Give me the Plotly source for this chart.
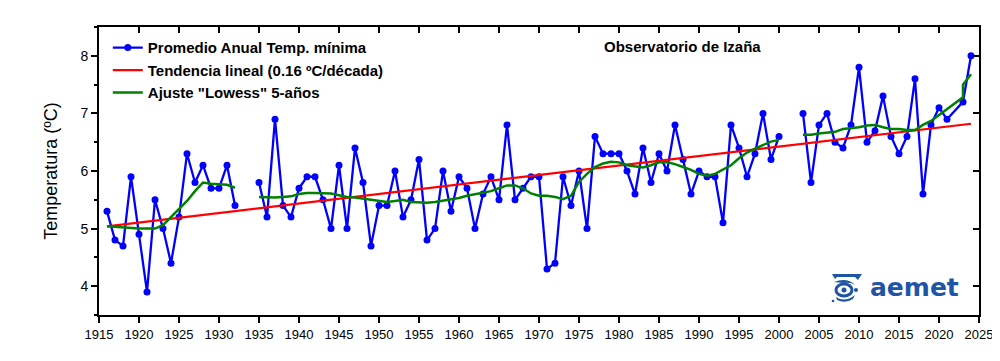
import base64
import plotly.graph_objects as go

# ---------------- data ----------------
years = [1916, 1917, 1918, 1919, 1920, 1921, 1922, 1923, 1924, 1925,
         1926, 1927, 1928, 1929, 1930, 1931, 1932, 1933, 1934, 1935,
         1936, 1937, 1938, 1939, 1940, 1941, 1942, 1943, 1944, 1945,
         1946, 1947, 1948, 1949, 1950, 1951, 1952, 1953, 1954, 1955,
         1956, 1957, 1958, 1959, 1960, 1961, 1962, 1963, 1964, 1965,
         1966, 1967, 1968, 1969, 1970, 1971, 1972, 1973, 1974, 1975,
         1976, 1977, 1978, 1979, 1980, 1981, 1982, 1983, 1984, 1985,
         1986, 1987, 1988, 1989, 1990, 1991, 1992, 1993, 1994, 1995,
         1996, 1997, 1998, 1999, 2000, 2001, 2002, 2003, 2004, 2005,
         2006, 2007, 2008, 2009, 2010, 2011, 2012, 2013, 2014, 2015,
         2016, 2017, 2018, 2019, 2020, 2021, 2023, 2024]
tmin = [5.3, 4.8, 4.7, 5.9, 4.9, 3.9, 5.5, 5.0, 4.4, 5.2,
        6.3, 5.8, 6.1, 5.7, 5.7, 6.1, 5.4, None, None, 5.8,
        5.2, 6.9, 5.4, 5.2, 5.7, 5.9, 5.9, 5.5, 5.0, 6.1,
        5.0, 6.4, 5.8, 4.7, 5.4, 5.4, 6.0, 5.2, 5.5, 6.2,
        4.8, 5.0, 6.0, 5.3, 5.9, 5.7, 5.0, 5.6, 5.9, 5.5,
        6.8, 5.5, 5.7, 5.9, 5.9, 4.3, 4.4, 5.9, 5.4, 6.0,
        5.0, 6.6, 6.3, 6.3, 6.3, 6.0, 5.6, 6.4, 5.8, 6.3,
        6.0, 6.8, 6.2, 5.6, 6.0, 5.9, 5.9, 5.1, 6.8, 6.4,
        5.9, 6.3, 7.0, 6.2, 6.6, None, None, 7.0, 5.8, 6.8,
        7.0, 6.5, 6.4, 6.8, 7.8, 6.5, 6.7, 7.3, 6.6, 6.3,
        6.6, 7.6, 5.6, 6.8, 7.1, 6.9, 7.2, 8.0]

trend_years = [1916, 2024]
trend_values = [5.04, 6.82]

lowess_years = [1916, 1917, 1918, 1919, 1920, 1921, 1922, 1923, 1924, 1925,
                1926, 1927, 1928, 1929, 1930, 1931, 1932, 1933,
                1935, 1936, 1937, 1938, 1939, 1940, 1941, 1942, 1943, 1944,
                1945, 1946, 1947, 1948, 1949, 1950, 1951, 1952, 1953, 1954,
                1955, 1956, 1957, 1958, 1959, 1960, 1961, 1962, 1963, 1964,
                1965, 1966, 1967, 1968, 1969, 1970, 1971, 1972, 1973, 1974,
                1975, 1976, 1977, 1978, 1979, 1980, 1981, 1982, 1983, 1984,
                1985, 1986, 1987, 1988, 1989, 1990, 1991, 1992, 1993, 1994,
                1995, 1996, 1997, 1998, 1999, 2000, 2001,
                2003, 2004, 2005, 2006, 2007, 2008, 2009, 2010, 2011, 2012,
                2013, 2014, 2015, 2016, 2017, 2018, 2019, 2020, 2021, 2022,
                2023, 2023, 2024]
lowess_values = [5.04, 5.03, 5.02, 5.0, 5.0, 5.0, 5.0, 5.06, 5.2, 5.35,
                 5.48, 5.65, 5.8, 5.78, 5.77, 5.76, 5.71, None,
                 5.55, 5.54, 5.54, 5.55, 5.56, 5.6, 5.62, 5.62, 5.62, 5.61,
                 5.58, 5.55, 5.54, 5.52, 5.51, 5.48, 5.46, 5.48, 5.5, 5.46,
                 5.45, 5.45, 5.46, 5.48, 5.5, 5.53, 5.57, 5.6, 5.62, 5.65,
                 5.7, 5.75, 5.75, 5.7, 5.61, 5.57, 5.57, 5.55, 5.51, 5.57,
                 5.81, 5.95, 6.07, 6.13, 6.16, 6.15, 6.1, 6.08, 6.06, 6.1,
                 6.15, 6.15, 6.12, 6.07, 6.02, 5.95, 5.92, 5.95, 6.02, 6.1,
                 6.22, 6.32, 6.39, 6.45, 6.51, 6.54, None,
                 6.63, 6.63, 6.65, 6.67, 6.68, 6.73, 6.74, 6.76, 6.79, 6.8,
                 6.76, 6.73, 6.73, 6.71, 6.71, 6.8, 6.87, 6.97, 7.07, 7.18,
                 7.28, 7.5, 7.68]

x_ticks = list(range(1915, 2030, 5))
y_ticks = [4, 5, 6, 7, 8]

legend_names = ["Promedio Anual Temp. mínima",
                "Tendencia lineal (0.16 ºC/década)",
                "Ajuste \"Lowess\" 5-años"]

# ---------------- figure ----------------
fig = go.Figure()
fig.add_trace(go.Scatter(x=years, y=tmin, mode="lines+markers",
                         name=legend_names[0],
                         line=dict(color="#0000FF", width=2.3),
                         marker=dict(color="#0000FF", size=7)))
fig.add_trace(go.Scatter(x=trend_years, y=trend_values, mode="lines",
                         name=legend_names[1],
                         line=dict(color="#FF0000", width=2.2)))
fig.add_trace(go.Scatter(x=lowess_years, y=lowess_values, mode="lines",
                         name=legend_names[2],
                         line=dict(color="#008000", width=2.5)))

axis_font = dict(family="Liberation Sans, Arial, sans-serif", color="black")

fig.update_layout(
    width=984, height=345,
    margin=dict(l=91, r=13, t=19, b=38, autoexpand=False),
    paper_bgcolor="white", plot_bgcolor="white",
    font=axis_font,
    showlegend=True,
    legend=dict(x=0.01, y=0.985, xanchor="left", yanchor="top",
                bgcolor="rgba(0,0,0,0)", borderwidth=0,
                tracegroupgap=0,
                font=dict(family="Liberation Sans, Arial, sans-serif",
                          size=15, color="black", weight="bold")),
    xaxis=dict(range=[1915, 2025], tickmode="array", tickvals=x_ticks,
               ticks="outside", ticklen=6, tickwidth=2, tickcolor="black",
               showline=True, linecolor="black", linewidth=2, mirror=True,
               showgrid=False, zeroline=False, ticklabeloverflow="allow",
               tickfont=dict(size=13, color="black")),
    yaxis=dict(range=[3.5, 8.5], tickmode="array", tickvals=y_ticks,
               ticks="outside", ticklen=6, tickwidth=2, tickcolor="black",
               minor=dict(dtick=0.5, ticks="outside", ticklen=3,
                          tickwidth=2, tickcolor="black"),
               showline=True, linecolor="black", linewidth=2, mirror=True,
               showgrid=False, zeroline=False,
               tickfont=dict(size=14, color="black"),
               title=dict(text="Temperatura (ºC)", standoff=18,
                          font=dict(size=18, color="black"))),
    xaxis2=dict(range=[1915, 2025], overlaying="x", side="top",
                tickmode="array", tickvals=x_ticks, ticks="inside",
                ticklen=6, tickwidth=2, tickcolor="black",
                showticklabels=False, showgrid=False, zeroline=False,
                showline=False),
    yaxis2=dict(range=[3.5, 8.5], overlaying="y", side="right",
                tickmode="array", tickvals=y_ticks, ticks="inside",
                ticklen=6, tickwidth=2, tickcolor="black",
                showticklabels=False, showgrid=False, zeroline=False,
                showline=False),
)

# invisible trace to activate the mirrored tick axes
fig.add_trace(go.Scatter(x=[1915], y=[3.5], xaxis="x2", yaxis="y2",
                         mode="markers", marker=dict(opacity=0),
                         showlegend=False, hoverinfo="skip"))

fig.add_annotation(text="<b>Observatorio de Izaña</b>", xref="paper",
                   yref="paper", x=(682 - 99) / 880, y=(315 - 46) / 288,
                   xanchor="center", yanchor="middle", showarrow=False,
                   font=dict(family="Liberation Sans, Arial, sans-serif",
                             size=15, color="black"))

# AEMET logo (text + simple emblem)
fig.add_annotation(text="<b>aemet</b>", xref="paper", yref="paper",
                   x=(914 - 99) / 880, y=(315 - 287) / 288,
                   xanchor="center", yanchor="middle", showarrow=False,
                   font=dict(family="DejaVu Sans, sans-serif", size=25,
                             color="#1f55a5"))

svg = ('<svg xmlns="http://www.w3.org/2000/svg" width="32" height="30" viewBox="0 0 32 30">'
       '<path d="M1 1 L31 1 L27 7 L24 4 L6 4 L4 6 Z" fill="#1f55a5"/>'
       '<path d="M3 9 Q16 4 24 12 Q20 9 12 10 Z" fill="#1f55a5"/>'
       '<ellipse cx="13" cy="17" rx="8" ry="6" fill="none" stroke="#1f55a5" stroke-width="3"/>'
       '<circle cx="13" cy="17" r="2.5" fill="#1f55a5"/>'
       '<circle cx="25" cy="17" r="2" fill="#1f55a5"/>'
       '<path d="M5 24 Q14 30 24 22 L22 26 Q14 31 6 27 Z" fill="#1f55a5"/>'
       '<circle cx="2" cy="28" r="1.3" fill="#1f55a5"/>'
       '</svg>')
svg_uri = "data:image/svg+xml;base64," + base64.b64encode(svg.encode()).decode()
fig.add_layout_image(dict(source=svg_uri, xref="paper", yref="paper",
                          x=(831 - 99) / 880, y=(315 - 273) / 288,
                          sizex=32 / 880, sizey=30 / 288,
                          xanchor="left", yanchor="top", layer="above"))

fig.write_html("out.html")
